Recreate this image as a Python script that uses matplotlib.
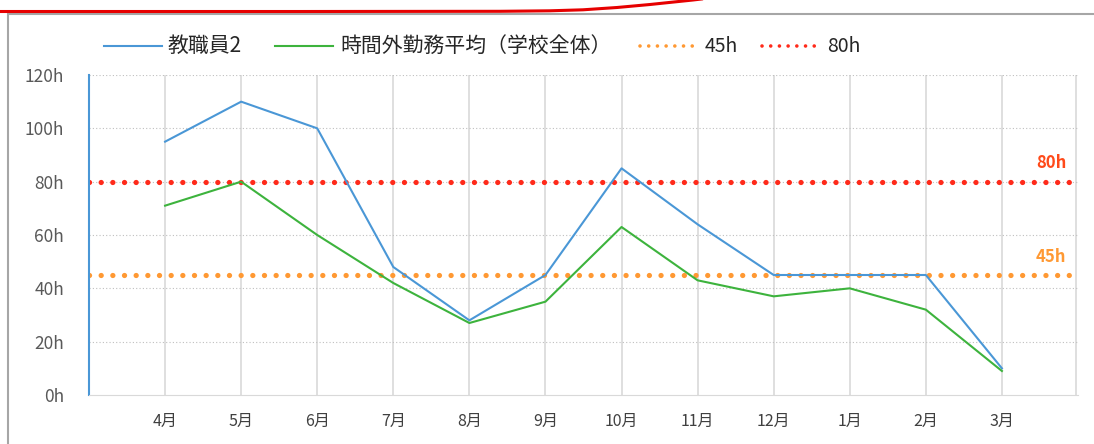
import matplotlib.pyplot as plt
import matplotlib.lines as mlines
from matplotlib.patches import Rectangle

plt.rcParams['font.family'] = ['Noto Sans CJK JP', 'DejaVu Sans']

# Daten
monate = ["4月", "5月", "6月", "7月", "8月", "9月", "10月", "11月", "12月", "1月", "2月", "3月"]
kyoshokuin2 = [95, 110, 100, 48, 28, 45, 85, 64, 45, 45, 45, 10]
gakko_heikin = [71, 80, 60, 42, 27, 35, 63, 43, 37, 40, 32, 9]
grenze_45 = 45
grenze_80 = 80
y_ticks = [0, 20, 40, 60, 80, 100, 120]

W, H = 1094, 444
blau = '#4a97d6'
gruen = '#3db33d'
orange = '#ff9933'
rot = '#ff2a1a'

fig = plt.figure(figsize=(W / 100, H / 100), dpi=100)
ax = fig.add_axes([89 / W, 1 - 395 / H, (1078 - 89) / W, 320 / H])

x = list(range(len(monate)))

# Hilfslinien
for xi in x:
    ax.axvline(xi, color='#d9d9d9', lw=1.2, zorder=0)
ax.axvline(11.97, color='#d9d9d9', lw=1.2, zorder=0)
for yt in y_ticks[1:]:
    ax.axhline(yt, color='#bfbfbf', lw=0.8, ls=(0, (1, 2)), zorder=0)

ax.axhline(grenze_45, color=orange, lw=3.8, ls=(0, (0.01, 2.2)), dash_capstyle='round', zorder=2)
ax.axhline(grenze_80, color=rot, lw=3.8, ls=(0, (0.01, 2.2)), dash_capstyle='round', zorder=2)

ax.plot(x, kyoshokuin2, color=blau, lw=1.5, zorder=3)
ax.plot(x, gakko_heikin, color=gruen, lw=1.5, zorder=3)

ax.text(11.85, grenze_80 + 3.5, "80h", color='#ff4a1a', fontsize=12, fontweight='bold', ha='right', va='bottom')
ax.text(11.85, grenze_45 + 3.5, "45h", color=orange, fontsize=12, fontweight='bold', ha='right', va='bottom')

ax.set_xlim(-1, 12)
ax.set_ylim(0, 120)
ax.set_xticks(x)
ax.set_xticklabels(monate, fontsize=11.5, color='#404040')
ax.set_yticks(y_ticks)
ax.set_yticklabels([f"{v}h" for v in y_ticks], fontsize=12.5, color='#595959')
ax.tick_params(axis='y', length=0, pad=18)
ax.tick_params(axis='x', length=0, pad=13)

for s in ['top', 'right']:
    ax.spines[s].set_visible(False)
ax.spines['left'].set_color(blau)
ax.spines['left'].set_linewidth(1.5)
ax.spines['bottom'].set_color('#d9d9d9')

# Legende (von Hand gesetzt)
leg_y = 1 - 46 / H
eintraege = [
    (104, 162, 168, '教職員2', 15, dict(color=blau, lw=1.5)),
    (275, 333, 340, '時間外勤務平均（学校全体）', 15, dict(color=gruen, lw=1.5)),
    (640, 698, 705, '45h', 14, dict(color=orange, lw=2.6, ls=(0, (0.01, 2.4)), dash_capstyle='round')),
    (762, 820, 827, '80h', 14, dict(color=rot, lw=2.6, ls=(0, (0.01, 2.4)), dash_capstyle='round')),
]
for x0, x1, xt, label, fs, stil in eintraege:
    fig.add_artist(mlines.Line2D([x0 / W, x1 / W], [leg_y, leg_y], transform=fig.transFigure, **stil))
    fig.text(xt / W, leg_y, label, fontsize=fs, va='center', ha='left', color='#262626')

# Rahmen und rote Markierung oben
fig.add_artist(Rectangle((8 / W, -0.1), 1.1, 1 - 14 / H + 0.1, transform=fig.transFigure,
                         fill=False, edgecolor='#a6a6a6', lw=1.5))
rx = [0, 300, 500, 550, 583, 617, 650, 693, 710]
ry = [11.5, 11.5, 11.3, 10.8, 9.8, 7.5, 4.5, 0, -2]
fig.add_artist(mlines.Line2D([v / W for v in rx], [1 - v / H for v in ry], transform=fig.transFigure,
                             color='#e60000', lw=2.2, solid_joinstyle='round'))

plt.savefig('out.png', dpi=100)
